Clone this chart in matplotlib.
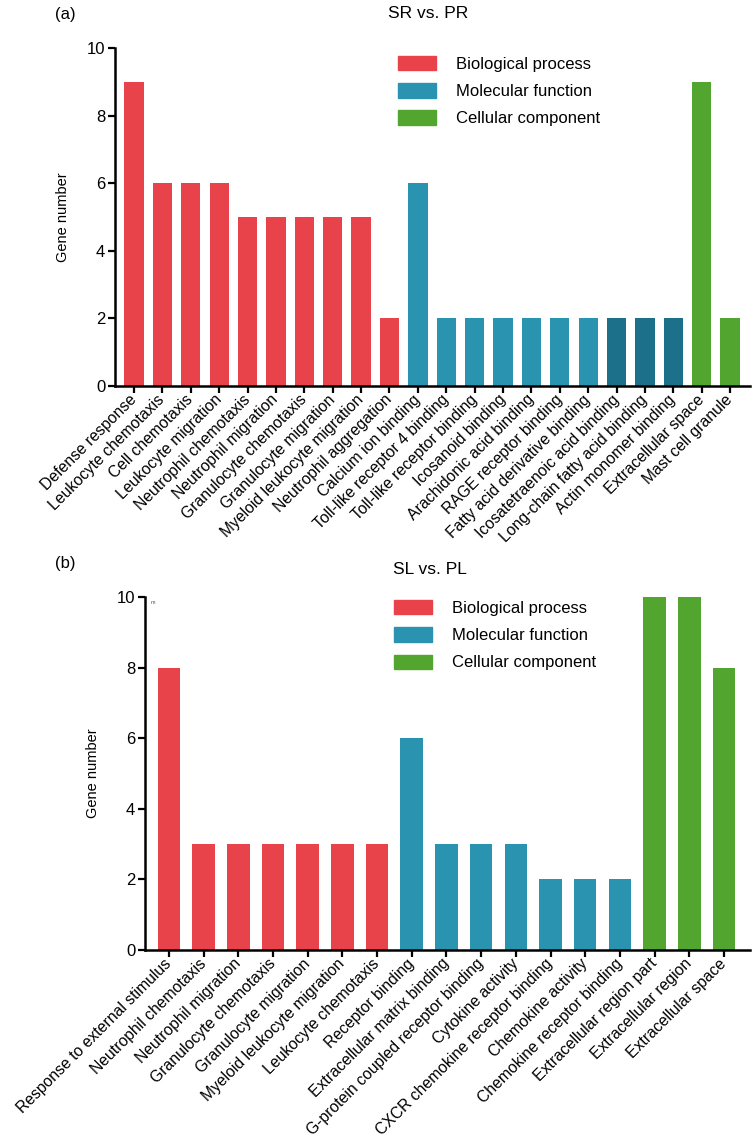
import matplotlib
matplotlib.use("Agg")
import matplotlib.pyplot as plt
from matplotlib.patches import Patch

plt.rcParams['font.family'] = ['Liberation Sans', 'DejaVu Sans']

## Data
labels_a = [
    "Defense response", "Leukocyte chemotaxis", "Cell chemotaxis",
    "Leukocyte migration", "Neutrophil chemotaxis", "Neutrophil migration",
    "Granulocyte chemotaxis", "Granulocyte migration",
    "Myeloid leukocyte migration", "Neutrophil aggregation",
    "Calcium ion binding", "Toll-like receptor 4 binding",
    "Toll-like receptor binding", "Icosanoid binding",
    "Arachidonic acid binding", "RAGE receptor binding",
    "Fatty acid derivative binding", "Icosatetraenoic acid binding",
    "Long-chain fatty acid binding", "Actin monomer binding",
    "Extracellular space", "Mast cell granule",
]
values_a = [9, 6, 6, 6, 5, 5, 5, 5, 5, 2, 6, 2, 2, 2, 2, 2, 2, 2, 2, 2, 9, 2]
groups_a = ["BP"] * 10 + ["MF"] * 7 + ["MF2"] * 3 + ["CC"] * 2

labels_b = [
    "Response to external stimulus", "Neutrophil chemotaxis",
    "Neutrophil migration", "Granulocyte chemotaxis",
    "Granulocyte migration", "Myeloid leukocyte migration",
    "Leukocyte chemotaxis", "Receptor binding",
    "Extracellular matrix binding", "G-protein coupled receptor binding",
    "Cytokine activity", "CXCR chemokine receptor binding",
    "Chemokine activity", "Chemokine receptor binding",
    "Extracellular region part", "Extracellular region", "Extracellular space",
]
values_b = [8, 3, 3, 3, 3, 3, 3, 6, 3, 3, 3, 2, 2, 2, 10, 10, 8]
groups_b = ["BP"] * 7 + ["MF"] * 7 + ["CC"] * 3

legend_names = ["Biological process", "Molecular function", "Cellular component"]

## Styles
COLORS = {"BP": "#E8434A", "MF": "#2A94B0", "MF2": "#1D7089", "CC": "#52A52E"}


def draw_panel(fig, rect, labels, values, groups, width, xpad, title, tag,
               tag_pos, title_pos, legend_anchor, ylabel_x):
    ax = fig.add_axes(rect)
    x = list(range(len(values)))
    ax.bar(x, values, width=width, color=[COLORS[g] for g in groups])
    ax.set_xlim(-xpad[0], len(values) - 1 + xpad[1])
    ax.set_ylim(0, 10)
    ax.set_yticks(range(0, 11, 2))
    ax.set_xticks(x)
    ax.set_xticklabels(labels, rotation=45, ha="right", va="center",
                       rotation_mode="anchor", fontsize=11.3)
    ax.tick_params(axis="y", labelsize=12, length=5, width=1.6, pad=2)
    ax.tick_params(axis="x", length=5, width=1.6, pad=3)
    for s in ["top", "right"]:
        ax.spines[s].set_visible(False)
    for s in ["left", "bottom"]:
        ax.spines[s].set_linewidth(1.8)
    ax.set_ylabel("Gene number", fontsize=10.5)
    ax.yaxis.set_label_coords(ylabel_x, 0.5)

    handles = [Patch(color=COLORS[g]) for g in ["BP", "MF", "CC"]]
    fig.legend(handles, legend_names, loc="upper left",
               bbox_to_anchor=legend_anchor, frameon=False, fontsize=12,
               handlelength=2.3, handleheight=0.95, handletextpad=1.2,
               labelspacing=0.68, borderpad=0, borderaxespad=0)
    fig.text(tag_pos[0], tag_pos[1], tag, fontsize=12, va="center")
    fig.text(title_pos[0], title_pos[1], title, fontsize=12.5, ha="center",
             va="center")
    return ax


fig = plt.figure(figsize=(7.54, 11.42), dpi=100)

draw_panel(fig, [115 / 754, 1 - 386 / 1142, 635 / 754, 338 / 1142],
           labels_a, values_a, groups_a, 0.68, (0.67, 0.7),
           "SR vs. PR", "(a)", (55 / 754, 1 - 15 / 1142),
           (428 / 754, 1 - 13 / 1142), (398 / 754, 1 - 56 / 1142), -0.071)

draw_panel(fig, [145 / 754, 1 - 950 / 1142, 605 / 754, 353 / 1142],
           labels_b, values_b, groups_b, 0.65, (0.69, 0.75),
           "SL vs. PL", "(b)", (55 / 754, 1 - 563 / 1142),
           (430 / 754, 1 - 570 / 1142), (394 / 754, 1 - 600 / 1142),
           -0.074)
fig.text(151 / 754, 1 - 603 / 1142, "m", fontsize=4, color="#555555",
         va="center")

fig.savefig("out.png", dpi=100)
